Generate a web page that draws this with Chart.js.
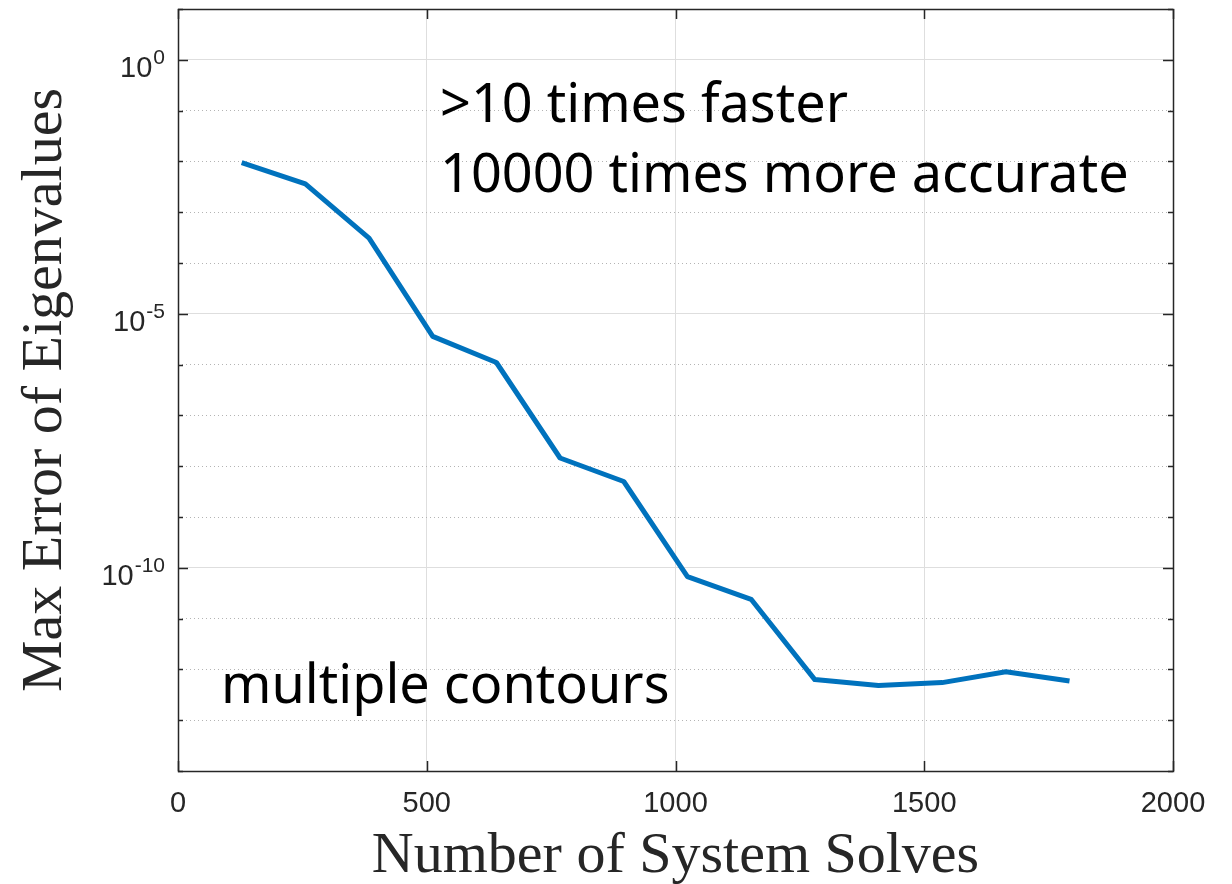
<!DOCTYPE html>
<html>
<head>
<meta charset="utf-8">
<script src="https://cdn.jsdelivr.net/npm/chart.js@4.4.1/dist/chart.umd.min.js"></script>
<style>
  html, body { margin: 0; padding: 0; background: #ffffff; }
  canvas { display: block; }
</style>
</head>
<body>
<canvas id="c" width="1232" height="884"></canvas>
<script>
// Convergence of the eigenvalue solver: max error vs. number of linear system solves
const solves = [128, 256, 384, 512, 640, 768, 896, 1024, 1152, 1280, 1408, 1536, 1664, 1792];
const maxError = [9.5e-3, 3.6e-3, 3.1e-4, 3.6e-6, 1.1e-6, 1.45e-8, 5.0e-9, 6.7e-11, 2.4e-11,
                  6.3e-13, 4.8e-13, 5.5e-13, 9.0e-13, 5.9e-13];

const xTickValues = [0, 500, 1000, 1500, 2000];
const yDecades = [1, 0, -1, -2, -3, -4, -5, -6, -7, -8, -9, -10, -11, -12, -13, -14];
const yLabelledDecades = [0, -5, -10];

const xTitle = 'Number of System Solves';
const yTitle = 'Max Error of Eigenvalues';
const headline = ['>10 times faster', '10000 times more accurate'];
const footnote = 'multiple contours';

const AXIS_COLOR = '#262626';
const LINE_COLOR = '#0072BD';
const SANS = '"Liberation Sans", Arial, Helvetica, sans-serif';
const SERIF = '"Liberation Serif", "Times New Roman", serif';
const NOTE_FONT = '"Noto Sans", "Open Sans", sans-serif';

const isLabelled = (v) => yLabelledDecades.some(k => Math.abs(Math.log10(v) - k) < 1e-6);
const isEdgeY = (v) => Math.abs(Math.log10(v) - 1) < 1e-6 || Math.abs(Math.log10(v) + 14) < 1e-6;

// box, inward tick marks, superscripted decade labels and text notes
const framePlugin = {
  id: 'frame',
  afterDraw(chart) {
    const { ctx, chartArea: a, scales: { x, y } } = chart;
    ctx.save();

    // inward ticks on all four sides
    ctx.strokeStyle = AXIS_COLOR;
    ctx.lineWidth = 1.5;
    ctx.beginPath();
    yDecades.forEach(k => {
      const py = Math.round(y.getPixelForValue(Math.pow(10, k))) + 0.5;
      const len = (k % 5 === 0) ? 10 : 5;
      ctx.moveTo(a.left, py); ctx.lineTo(a.left + len, py);
      ctx.moveTo(a.right, py); ctx.lineTo(a.right - len, py);
    });
    xTickValues.forEach(v => {
      const px = Math.round(x.getPixelForValue(v)) + 0.5;
      ctx.moveTo(px, a.bottom); ctx.lineTo(px, a.bottom - 10);
      ctx.moveTo(px, a.top); ctx.lineTo(px, a.top + 10);
    });
    ctx.stroke();

    // axes box
    ctx.strokeRect(Math.round(a.left) + 0.5, Math.round(a.top) + 0.5,
                   Math.round(a.right - a.left), Math.round(a.bottom - a.top));

    // decade labels 10^k
    ctx.fillStyle = AXIS_COLOR;
    ctx.textAlign = 'right';
    ctx.textBaseline = 'alphabetic';
    yLabelledDecades.forEach(k => {
      const py = y.getPixelForValue(Math.pow(10, k));
      const exp = String(k);
      const rightEdge = a.left - 13;
      ctx.font = '21px ' + SANS;
      const ew = ctx.measureText(exp).width;
      ctx.fillText(exp, rightEdge, py + 4);
      ctx.font = '29px ' + SANS;
      ctx.fillText('10', rightEdge - ew - 1, py + 17);
    });

    // notes
    ctx.fillStyle = '#000000';
    ctx.textAlign = 'left';
    ctx.font = '54px ' + NOTE_FONT;
    ctx.fillText(headline[0], a.left + 262, a.top + 113);
    ctx.fillText(headline[1], a.left + 262, a.top + 183);
    ctx.fillText(footnote, a.left + 43, a.top + 694);

    ctx.restore();
  }
};

new Chart(document.getElementById('c'), {
  type: 'line',
  data: {
    datasets: [{
      data: solves.map((s, i) => ({ x: s, y: maxError[i] })),
      borderColor: LINE_COLOR,
      borderWidth: 5,
      borderJoinStyle: 'round',
      borderCapStyle: 'butt',
      pointRadius: 0,
      tension: 0,
      fill: false
    }]
  },
  options: {
    responsive: false,
    animation: false,
    devicePixelRatio: 1,
    layout: { padding: { top: 9, right: 59, left: 0, bottom: 0 } },
    plugins: { legend: { display: false }, tooltip: { enabled: false } },
    scales: {
      x: {
        type: 'linear',
        min: 0,
        max: 2000,
        afterBuildTicks: (scale) => { scale.ticks = xTickValues.map(v => ({ value: v })); },
        afterFit: (scale) => { scale.height = 113; },
        ticks: {
          color: AXIS_COLOR,
          font: { family: SANS, size: 29 },
          padding: 16,
          maxRotation: 0,
          callback: (v) => String(v)
        },
        grid: {
          drawTicks: false,
          lineWidth: 1,
          color: (c) => (c.tick && (c.tick.value === 0 || c.tick.value === 2000)) ? 'rgba(0,0,0,0)' : '#dedede'
        },
        border: { display: false },
        title: {
          display: true,
          text: xTitle,
          color: AXIS_COLOR,
          font: { family: SERIF, size: 58, weight: 'normal', lineHeight: 0.9 },
          padding: { top: 0, bottom: 1 }
        }
      },
      y: {
        type: 'logarithmic',
        min: 1e-14,
        max: 10,
        afterBuildTicks: (scale) => { scale.ticks = yDecades.map(k => ({ value: Math.pow(10, k) })); },
        afterFit: (scale) => { scale.width = 178; },
        ticks: { display: false },
        grid: {
          drawTicks: false,
          lineWidth: 1,
          color: (c) => {
            if (!c.tick || isEdgeY(c.tick.value)) return 'rgba(0,0,0,0)';
            return isLabelled(c.tick.value) ? '#dedede' : '#b4b4b4';
          }
        },
        border: {
          display: false,
          dash: (c) => (c.tick && !isLabelled(c.tick.value)) ? [1, 3] : []
        },
        title: {
          display: true,
          text: yTitle,
          color: AXIS_COLOR,
          font: { family: SERIF, size: 58, weight: 'normal', lineHeight: 0.9 },
          padding: { top: 20, bottom: 0 }
        }
      }
    }
  },
  plugins: [framePlugin]
});
</script>
</body>
</html>
